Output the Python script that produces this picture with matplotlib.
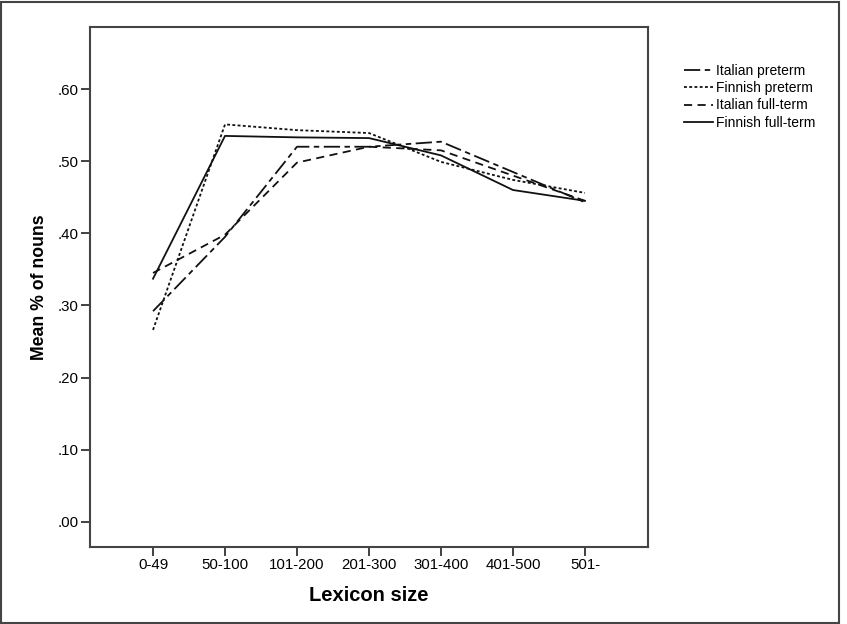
import numpy as np
import matplotlib.pyplot as plt
from matplotlib.patches import Rectangle

plt.rcParams['font.family'] = ['Liberation Sans', 'DejaVu Sans']

# lexicon size bins
categories = ['0-49', '50-100', '101-200', '201-300', '301-400', '401-500', '501-']

# mean proportion of nouns per group
italian_preterm = [0.292, 0.395, 0.520, 0.520, 0.527, 0.485, 0.443]
finnish_preterm = [0.266, 0.551, 0.543, 0.539, 0.499, 0.474, 0.456]
italian_fullterm = [0.345, 0.398, 0.498, 0.520, 0.515, 0.480, 0.445]
finnish_fullterm = [0.337, 0.535, 0.533, 0.532, 0.508, 0.460, 0.445]

y_ticks = [0.0, 0.1, 0.2, 0.3, 0.4, 0.5, 0.6]
y_ticklabels = ['.00', '.10', '.20', '.30', '.40', '.50', '.60']

fig = plt.figure(figsize=(8.47, 6.24), dpi=100)
ax = fig.add_axes([0.1063, 0.1234, 0.6587, 0.8333])

x = np.arange(len(categories))
lw = 1.3
ax.plot(x, italian_preterm, color='#111111', lw=lw, dashes=(9, 2.5, 3, 2.5), label='Italian preterm')
ax.plot(x, finnish_preterm, color='#111111', lw=lw, dashes=(1.6, 1.3), label='Finnish preterm')
ax.plot(x, italian_fullterm, color='#111111', lw=lw, dashes=(4.5, 3), label='Italian full-term')
ax.plot(x, finnish_fullterm, color='#111111', lw=lw, ls='-', label='Finnish full-term')

ax.set_xlim(-0.875, 6.875)
ax.set_ylim(-0.035, 0.686)
ax.set_xticks(x)
ax.set_xticklabels(categories, fontsize=10.8)
ax.set_yticks(y_ticks)
ax.set_yticklabels(y_ticklabels, fontsize=10.8)
ax.tick_params(direction='out', length=6.5, width=1.3, color='#333333', pad=1.5)
for s in ax.spines.values():
    s.set_linewidth(1.5)
    s.set_color('#444444')

ax.set_xlabel('Lexicon size', fontsize=14.5, fontweight='bold', labelpad=10)
ax.set_ylabel('Mean % of nouns', fontsize=12.7, fontweight='bold', labelpad=7)

leg = ax.legend(loc='upper left', bbox_to_anchor=(1.054, 0.94), frameon=False,
                fontsize=10, handlelength=2.15, handletextpad=0.15, labelspacing=0.24,
                borderaxespad=0)

# outer frame around the whole figure
fig.patches.append(Rectangle((0.0015, 0.002), 0.989, 0.995, transform=fig.transFigure,
                             fill=False, edgecolor='#444444', lw=1.5))

fig.savefig('out.png', dpi=100)
